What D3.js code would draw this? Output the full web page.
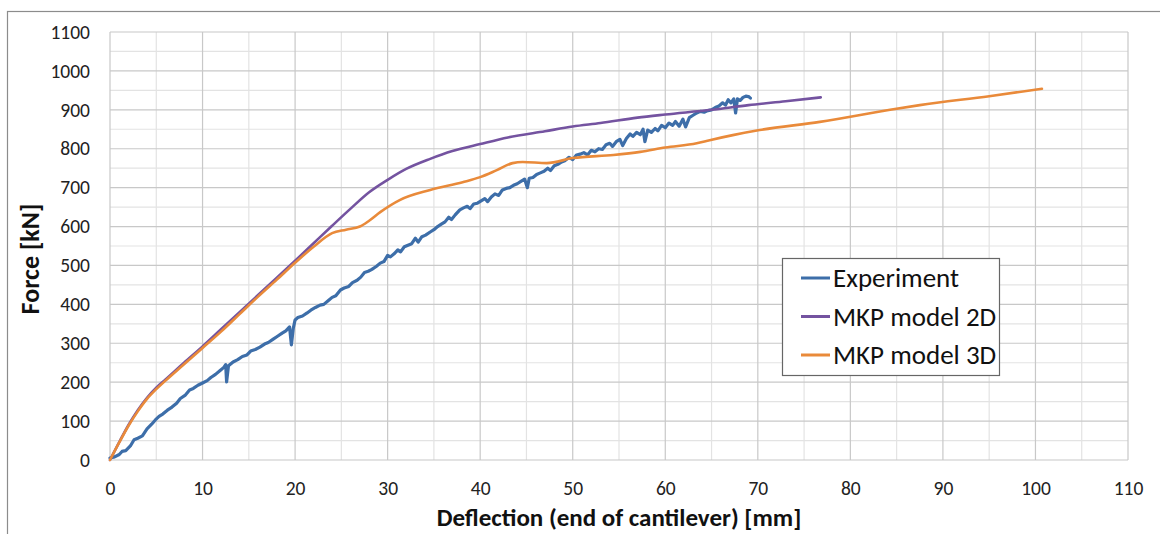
<!DOCTYPE html>
<html><head><meta charset="utf-8">
<script src="https://cdn.jsdelivr.net/npm/d3@7"></script>
<style>
html,body{margin:0;padding:0;background:#fff;}
svg{display:block;font-family:Carlito,Lato,"Open Sans",sans-serif;}
</style></head>
<body><svg id="c" width="1160" height="534"></svg>
<script>
const xTicks = [0,10,20,30,40,50,60,70,80,90,100,110];
const yTicks = [0,100,200,300,400,500,600,700,800,900,1000,1100];
const seriesNames = ["Experiment","MKP model 2D","MKP model 3D"];

const expX = [0,0.5,1.0,1.3,1.7,2.2,2.6,3.0,3.5,4.0,
  4.5,4.9,5.3,5.7,6.2,6.7,7.2,7.6,8.1,8.6,
  9.0,9.5,10.0,10.5,10.9,11.4,11.9,12.3,12.5,12.6,
  12.8,13.3,13.8,14.3,14.8,15.2,15.7,16.2,16.7,17.1,
  17.6,18.1,18.6,19.0,19.4,19.6,19.8,20.0,20.3,20.8,
  21.3,21.7,22.2,22.7,23.1,23.6,24.0,24.4,24.9,25.3,
  25.8,26.2,26.7,27.1,27.5,27.9,28.3,28.8,29.2,29.6,
  30.0,30.3,30.7,31.1,31.4,31.8,32.2,32.6,33.0,33.3,
  33.7,34.1,34.6,35.0,35.4,35.8,36.2,36.6,36.9,37.3,
  37.8,38.2,38.6,38.9,39.3,39.7,40.1,40.5,40.8,41.2,
  41.6,42.0,42.4,42.8,43.2,43.6,44.0,44.4,44.8,45.1,
  45.3,45.7,46.1,46.5,46.9,47.3,47.6,48.0,48.4,48.8,
  49.2,49.6,50.0,50.4,50.8,51.2,51.6,52.0,52.4,52.8,
  53.2,53.6,54.0,54.3,54.7,55.1,55.4,55.8,56.2,56.5,
  56.9,57.3,57.6,57.8,58.1,58.5,58.9,59.2,59.6,60.0,
  60.4,60.8,61.1,61.5,61.9,62.2,62.6,63.0,63.4,63.8,
  64.2,64.6,65.0,65.4,65.8,66.2,66.5,66.8,67.1,67.4,
  67.6,67.8,68.1,68.4,68.7,69.0,69.2];
const expY = [5,8,14,22,24,36,52,56,62,80,
  92,103,112,118,128,136,146,158,166,180,
  184,192,198,204,212,220,230,238,245,201,
  242,252,258,266,270,280,284,290,298,302,
  310,318,326,332,342,296,338,360,366,370,
  378,385,392,398,400,410,418,422,437,442,
  446,456,462,470,482,485,490,498,506,510,
  526,522,530,540,535,548,552,556,570,560,
  574,578,586,592,600,606,612,624,618,630,
  643,648,652,646,658,660,666,672,664,676,
  684,680,694,698,700,706,710,716,722,700,
  724,726,734,738,742,750,744,756,760,766,
  770,778,772,784,786,790,784,796,792,800,
  798,810,814,806,818,824,808,826,838,832,
  842,836,850,818,848,842,852,846,860,854,
  866,860,870,858,876,856,880,886,892,896,
  894,898,900,906,910,918,912,926,918,928,
  892,928,924,932,935,934,930];

const m2X = [0,1,2,3,4,5,6,8,10,12,14,16,18,20,22,24,26,28,30,32,34.6,37,40,43,47,50,53,57,60,65,69,73,76.8];
const m2Y = [0,46,90,128,160,186,207,250,292,336,380,424,468,512,557,602,646,688,720,748,774,794,812,829,845,857,866,880,888,900,912,922,932];

const m3X = [0,1,2,3,4,5,6,8,10,12,14,16,18,20,22,24,25.5,27,28,29.2,31.3,34.6,38.1,40,41.8,43.5,44.6,47.2,50,54.4,57.3,60,63.4,64.8,67.3,70.2,76.7,84.3,87.5,95,100.7];
const m3Y = [0,45,88,125,157,182,204,246,288,330,375,420,463,507,548,583,592,600,615,637,668,694,714,727,745,763,766,763,776,784,792,803,814,822,835,848,869,900,912,935,954];

const colors = ["#3d6ea9","#7453a0","#e98a3a"];

const svg = d3.select("#c");
const x = d3.scaleLinear().domain([0,110]).range([110,1128]);
const y = d3.scaleLinear().domain([0,1100]).range([460,32]);
const FONT = "Carlito,Lato,'Open Sans',sans-serif";

// outer frame
svg.append("rect").attr("x",7.5).attr("y",11.5).attr("width",1200).attr("height",600)
  .attr("fill","none").attr("stroke","#8c8c8c").attr("stroke-width",1.2);

// minor grid
const g = svg.append("g");
d3.range(5,110,10).forEach(v=>{
  g.append("line").attr("x1",x(v)).attr("x2",x(v)).attr("y1",y(0)).attr("y2",y(1100))
    .attr("stroke","#e3e3e3").attr("stroke-width",1.2);
});
d3.range(50,1100,100).forEach(v=>{
  g.append("line").attr("x1",x(0)).attr("x2",x(110)).attr("y1",y(v)).attr("y2",y(v))
    .attr("stroke","#e3e3e3").attr("stroke-width",1.2);
});
// major grid
xTicks.forEach(v=>{
  g.append("line").attr("x1",x(v)).attr("x2",x(v)).attr("y1",y(0)).attr("y2",y(1100))
    .attr("stroke","#c8c8c8").attr("stroke-width",1.2);
});
yTicks.forEach(v=>{
  g.append("line").attr("x1",x(0)).attr("x2",x(110)).attr("y1",y(v)).attr("y2",y(v))
    .attr("stroke","#c8c8c8").attr("stroke-width",1.2);
});

// axes (labels only)
const xa = svg.append("g").attr("transform",`translate(0,${y(0)})`)
  .call(d3.axisBottom(x).tickValues(xTicks).tickSize(0).tickPadding(21).tickFormat(d3.format("d")));
xa.select(".domain").remove();
xa.selectAll("text").attr("font-size",19.5).attr("fill","#222").attr("font-family",FONT);
const ya = svg.append("g").attr("transform",`translate(${x(0)},0)`)
  .call(d3.axisLeft(y).tickValues(yTicks).tickSize(0).tickPadding(20).tickFormat(d3.format("d")));
ya.select(".domain").remove();
ya.selectAll("text").attr("font-size",19.5).attr("fill","#222").attr("font-family",FONT);

// axis titles
svg.append("text").attr("x",619).attr("y",526).attr("text-anchor","middle")
  .attr("font-size",25).attr("font-weight","bold").attr("fill","#111")
  .text("Deflection (end of cantilever) [mm]");
svg.append("text").attr("transform","translate(39,259) rotate(-90)").attr("text-anchor","middle")
  .attr("font-size",26).attr("font-weight","bold").attr("fill","#111")
  .text("Force [kN]");

// lines
const lineLin = d3.line().x(d=>x(d[0])).y(d=>y(d[1]));
const lineSm = d3.line().x(d=>x(d[0])).y(d=>y(d[1])).curve(d3.curveMonotoneX);
const data = [
  {pts: expX.map((v,i)=>[v,expY[i]]), gen: lineLin, w: 3.2},
  {pts: m2X.map((v,i)=>[v,m2Y[i]]), gen: lineSm, w: 2.6},
  {pts: m3X.map((v,i)=>[v,m3Y[i]]), gen: lineSm, w: 2.6}
];
data.forEach((s,i)=>{
  svg.append("path").attr("d",s.gen(s.pts)).attr("fill","none")
    .attr("stroke",colors[i]).attr("stroke-width",s.w).attr("stroke-linejoin","round").attr("stroke-linecap","round");
});

// legend
const lg = svg.append("g");
lg.append("rect").attr("x",782.5).attr("y",258.5).attr("width",217).attr("height",117)
  .attr("fill","#fff").attr("stroke","#666").attr("stroke-width",1.2);
seriesNames.forEach((n,i)=>{
  const yy = 278 + i*38.5;
  lg.append("line").attr("x1",801).attr("x2",830).attr("y1",yy).attr("y2",yy)
    .attr("stroke",colors[i]).attr("stroke-width",3);
  lg.append("text").attr("x",833).attr("y",yy+9).attr("font-size",27).attr("fill","#111").text(n);
});
</script>
</body></html>
